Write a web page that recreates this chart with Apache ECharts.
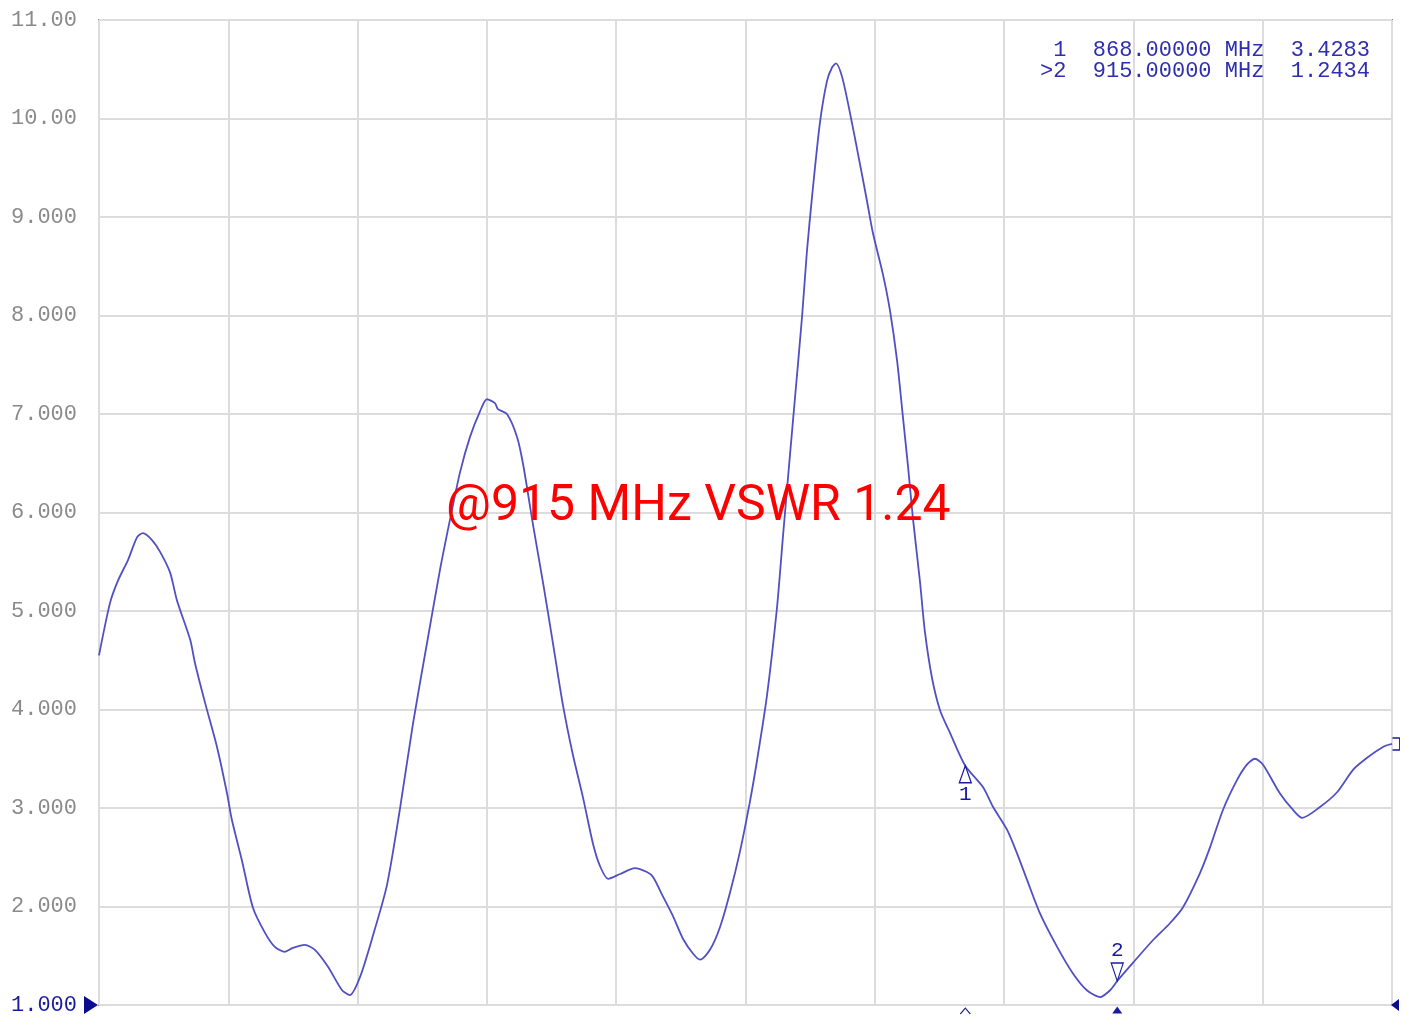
<!DOCTYPE html>
<html>
<head>
<meta charset="utf-8">
<script src="https://cdn.jsdelivr.net/npm/echarts@6/dist/echarts.min.js"></script>
<style>
html,body{margin:0;padding:0;background:#fff;}
#chart{width:1407px;height:1016px;}
</style>
</head>
<body>
<div id="chart"></div>
<script>
// Frequency (MHz) of traced points
const freqMHz = [
  600.0, 603.4, 605.9, 609.0, 611.8, 613.6, 616.4, 618.9, 622.0, 624.1,
  628.2, 629.7, 632.8, 636.5, 639.6, 641.1, 644.2, 647.6, 651.4, 654.4,
  657.5, 660.0, 663.7, 666.8, 670.8, 675.2, 677.6, 680.7, 684.8, 689.1,
  693.1, 697.1, 701.5, 705.5, 708.6, 711.7, 714.8, 717.9, 720.0, 722.5,
  723.4, 726.2, 729.3, 731.2, 734.3, 737.4, 740.4, 743.5, 746.6, 749.7,
  752.8, 755.0, 757.5, 761.2, 765.8, 769.5, 771.4, 774.5, 777.6, 780.7,
  783.8, 786.0, 789.0, 792.1, 795.2, 798.3, 801.4, 803.6, 806.6, 809.7,
  811.6, 813.8, 815.3, 817.5, 819.0, 820.6, 823.0, 825.2, 826.8, 828.0,
  829.9, 832.3, 835.4, 837.6, 839.4, 842.5, 844.7, 846.9, 848.7, 850.3,
  851.8, 854.0, 855.5, 857.7, 860.2, 863.3, 868.0, 873.5, 876.6, 880.9,
  884.0, 887.1, 891.1, 896.4, 901.3, 905.6, 909.7, 912.8, 915.0, 919.9,
  926.1, 931.3, 935.3, 940.6, 943.7, 947.7, 952.0, 955.1, 957.6, 960.1,
  965.3, 969.4, 972.2, 977.7, 983.0, 988.0, 992.3, 997.2, 1000.0
];
// VSWR values
const vswr = [
  4.55, 5.08, 5.31, 5.52, 5.75, 5.79, 5.72, 5.60, 5.39, 5.11,
  4.71, 4.47, 4.07, 3.62, 3.15, 2.88, 2.47, 1.99, 1.73, 1.59,
  1.54, 1.58, 1.61, 1.56, 1.39, 1.15, 1.10, 1.28, 1.71, 2.22,
  2.99, 3.85, 4.68, 5.42, 5.93, 6.41, 6.77, 7.03, 7.15, 7.11,
  7.05, 7.00, 6.77, 6.49, 5.87, 5.28, 4.68, 4.05, 3.54, 3.11,
  2.64, 2.41, 2.28, 2.33, 2.39, 2.35, 2.30, 2.10, 1.90, 1.67,
  1.52, 1.46, 1.56, 1.79, 2.14, 2.56, 3.07, 3.49, 4.13, 5.02,
  5.76, 6.60, 7.16, 7.99, 8.65, 9.21, 9.95, 10.38, 10.52, 10.56,
  10.42, 10.06, 9.54, 9.16, 8.84, 8.42, 8.05, 7.54, 6.97, 6.46,
  5.94, 5.29, 4.79, 4.32, 3.99, 3.76, 3.4283, 3.21, 3.01, 2.78,
  2.54, 2.27, 1.93, 1.59, 1.32, 1.15, 1.08, 1.15, 1.2434, 1.43,
  1.66, 1.83, 1.99, 2.34, 2.60, 2.98, 3.28, 3.44, 3.50, 3.44,
  3.15, 2.98, 2.90, 3.01, 3.16, 3.39, 3.51, 3.62, 3.65
];
// Y tick labels (1..11)
const yTickLabels = ["1.000","2.000","3.000","4.000","5.000","6.000","7.000","8.000","9.000","10.00","11.00"];
// Markers
const markerNames = ["1", "2"];
const markerFreq = [868.0, 915.0];
const markerVswr = [3.4283, 1.2434];
const readoutLines = [
  "  1  868.00000 MHz  3.4283",
  " >2  915.00000 MHz  1.2434"
];
const annotation = "@915 MHz VSWR 1.24";

const xMin = 600, xMax = 1000, yMin = 1, yMax = 11;

const NAVY = '#1a1aa0';
const TRACE = '#5050c4';
const MONO = '"Liberation Mono", "DejaVu Sans Mono", monospace';

const data = freqMHz.map((f, i) => [f, vswr[i]]);

const chart = echarts.init(document.getElementById('chart'), null, {renderer: 'canvas'});

const triUp = 'path://M6,0 L12,17 L0,17 Z';
const triDown = 'path://M0,0 L12,0 L6,18 Z';

chart.setOption({
  animation: false,
  backgroundColor: '#ffffff',
  grid: {left: 99, right: 15, top: 20, bottom: 11, show: true, borderColor: '#8a8a8a', borderWidth: 2, backgroundColor: 'transparent'},
  xAxis: {
    type: 'value', min: xMin, max: xMax, interval: 40,
    axisLine: {show: false}, axisTick: {show: false}, axisLabel: {show: false},
    splitLine: {show: true, lineStyle: {color: '#dcdcdc', width: 2}}
  },
  yAxis: {
    type: 'value', min: yMin, max: yMax, interval: 1,
    axisLine: {show: false}, axisTick: {show: false},
    splitLine: {show: true, lineStyle: {color: '#dcdcdc', width: 2}},
    axisLabel: {
      margin: 22,
      fontFamily: MONO, fontSize: 22, color: '#8a8a8a',
      formatter: function (v) {
        const idx = Math.round(v - yMin);
        const s = yTickLabels[idx] || '';
        return idx === 0 ? '{b|' + s + '}' : s;
      },
      rich: {b: {fontFamily: MONO, fontSize: 22, color: NAVY}}
    }
  },
  series: [{
    type: 'line',
    data: data,
    showSymbol: false,
    smooth: 0.25,
    clip: false,
    lineStyle: {color: TRACE, width: 1.8},
    markPoint: {
      silent: true,
      data: [
        {coord: [markerFreq[0], markerVswr[0]], symbol: triUp, symbolSize: [12, 17], symbolOffset: [0, 8.5],
         itemStyle: {color: 'rgba(255,255,255,0)', borderColor: NAVY, borderWidth: 1.3},
         label: {show: true, position: 'bottom', distance: 0, formatter: markerNames[0], color: NAVY, fontFamily: MONO, fontSize: 21}},
        {coord: [markerFreq[1], markerVswr[1]], symbol: triDown, symbolSize: [12, 18], symbolOffset: [0, -9],
         itemStyle: {color: 'rgba(255,255,255,0)', borderColor: NAVY, borderWidth: 1.3},
         label: {show: true, position: 'top', distance: 1, formatter: markerNames[1], color: NAVY, fontFamily: MONO, fontSize: 21}},
        {coord: [markerFreq[0], yMin], symbol: 'path://M0,6 L5,0 L10,6', symbolSize: [10, 6], symbolOffset: [0, 6],
         itemStyle: {color: 'rgba(255,255,255,0)', borderColor: NAVY, borderWidth: 1}, label: {show: false}},
        {coord: [markerFreq[1], yMin], symbol: 'path://M5,0 L10,8 L0,8 Z', symbolSize: [10, 7], symbolOffset: [0, 5],
         itemStyle: {color: NAVY}, label: {show: false}},
        {coord: [xMin, yMin], symbol: 'path://M0,0 L14,9 L0,18 Z', symbolSize: [14, 18], symbolOffset: [-8, 0],
         itemStyle: {color: '#0c0c90'}, label: {show: false}},
        {coord: [xMax, yMin], symbol: 'path://M8,0 L8,12 L0,6 Z', symbolSize: [8, 12], symbolOffset: [3, 0],
         itemStyle: {color: '#0c0c90'}, label: {show: false}},
        {coord: [xMax, vswr[vswr.length - 1]], symbol: 'path://M0,0 L7,0 L7,12 L0,12', symbolSize: [7, 12], symbolOffset: [4, 0],
         itemStyle: {color: 'rgba(255,255,255,0)', borderColor: NAVY, borderWidth: 1.2}, label: {show: false}}
      ]
    }
  }],
  graphic: [
    {type: 'text', right: 37, top: 39, z: 100,
     style: {text: readoutLines[0], fill: '#2e2eb0', font: '22px ' + MONO, textAlign: 'right'}},
    {type: 'text', right: 37, top: 60, z: 100,
     style: {text: readoutLines[1], fill: '#2e2eb0', font: '22px ' + MONO, textAlign: 'right'}},
    {type: 'text', left: 446, top: 482, z: 100,
     style: {text: annotation, fill: '#ff0000', font: '50px Roboto, "Noto Sans", sans-serif'}}
  ]
});
</script>
</body>
</html>
